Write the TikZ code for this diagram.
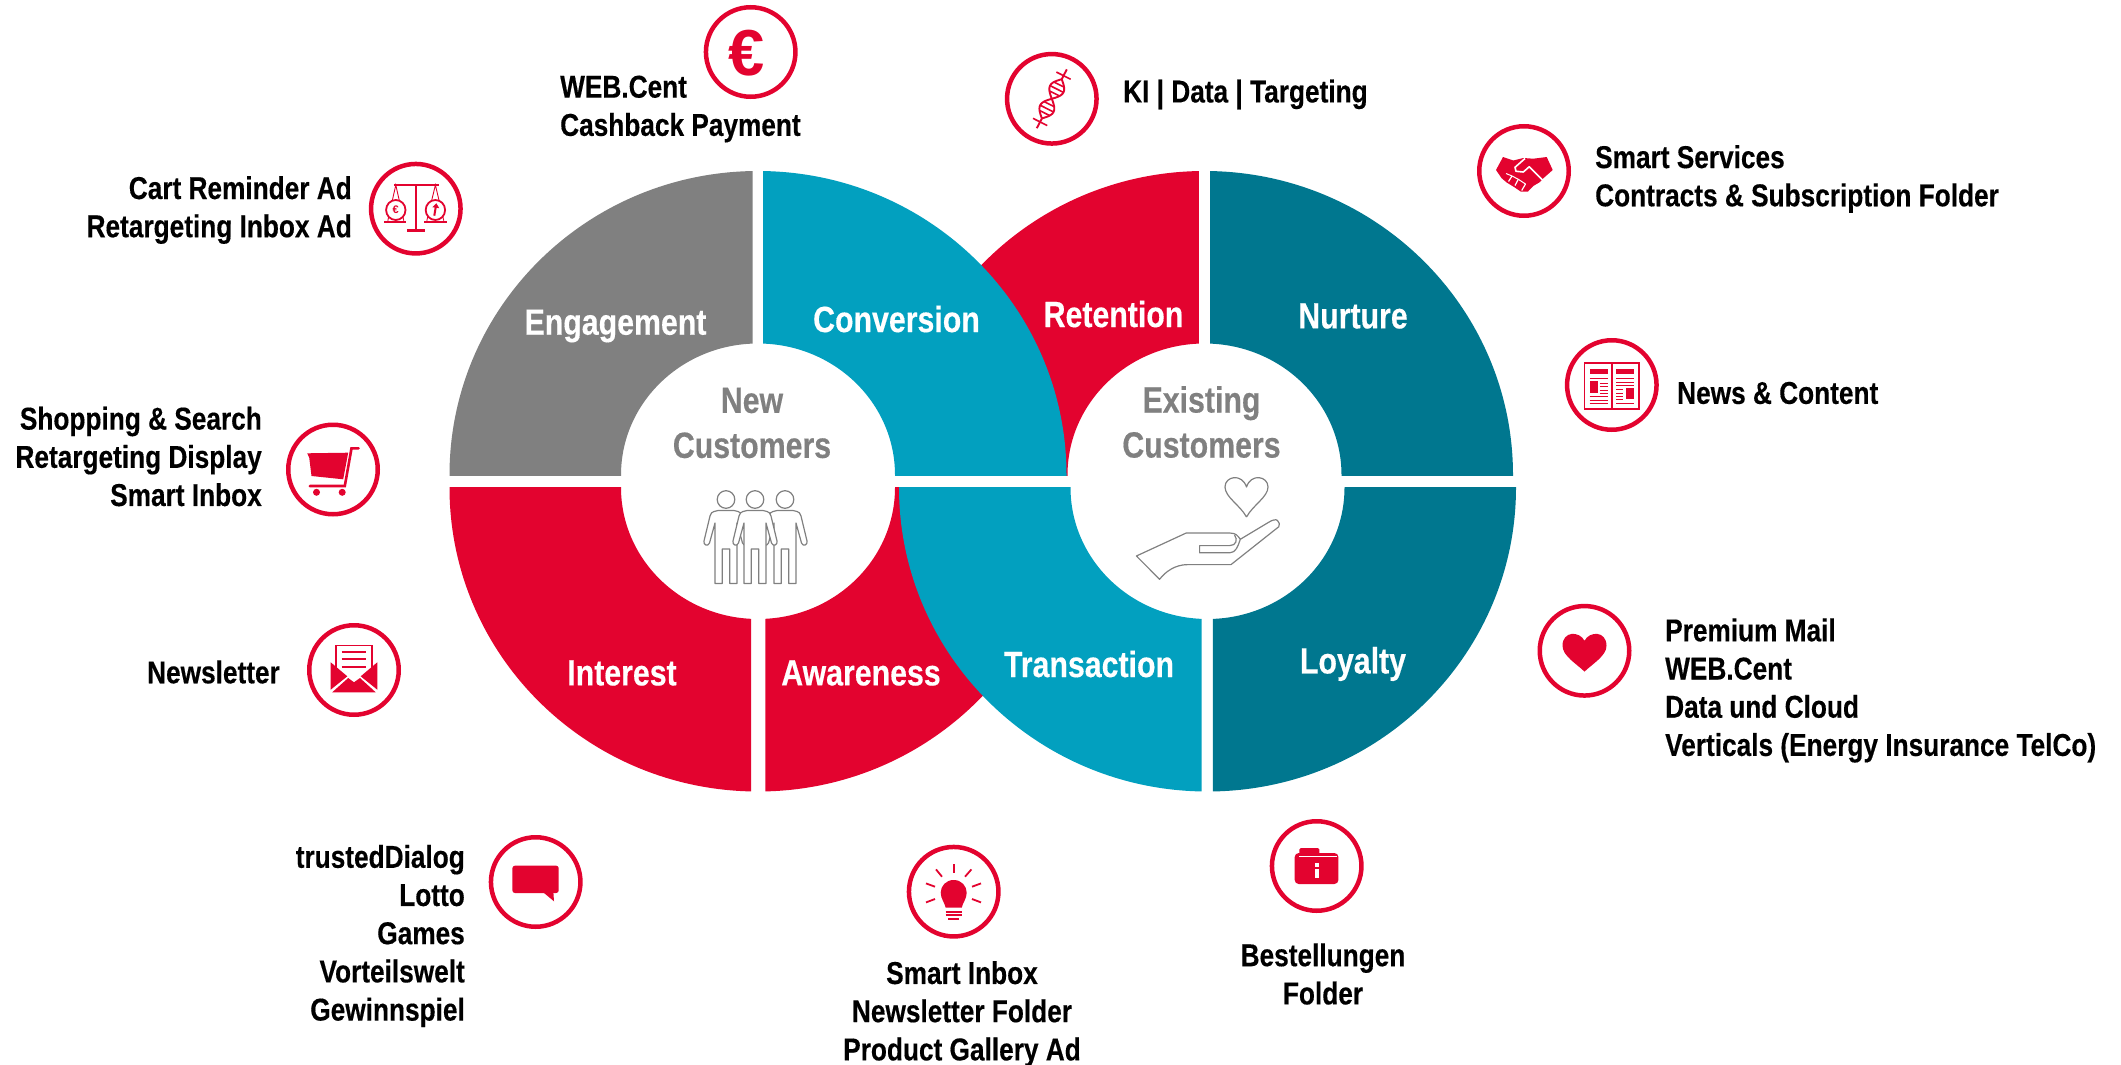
\documentclass[tikz,border=0pt]{standalone}
\usepackage{fontspec}
\setmainfont[FakeStretch=0.83,BoldFeatures={FakeBold=0.35}]{Liberation Sans}
\newfontfamily\plainfont{Liberation Sans}
\definecolor{brandred}{HTML}{E3032F}
\definecolor{brandcyan}{HTML}{02A0BF}
\definecolor{brandteal}{HTML}{00778F}
\definecolor{brandgray}{HTML}{808080}
\newcommand{\ringpart}[7]{% colour, cx, cy, x1, y1, x2, y2
  \begin{scope}
    \clip (#4,#5) rectangle (#6,#7);
    \fill[#1, even odd rule] (#2,#3) ellipse [x radius=308.5, y radius=304]
      (#2,#3) ellipse [x radius=137, y radius=131.5];
  \end{scope}}
\tikzset{
  iconring/.style={circle, draw=brandred, line width=4.5pt, minimum size=89.5pt, inner sep=0pt, fill=white},
  segtext/.style={text=white, font=\fontsize{36.5}{38}\selectfont\bfseries, inner sep=0pt},
  midtext/.style={text=brandgray, font=\fontsize{36.5}{45}\selectfont\bfseries, inner sep=0pt, align=center},
  lbl/.style={text=black, font=\fontsize{31.6}{38.2}\selectfont\bfseries, inner sep=0pt},
  redfill/.style={fill=brandred, draw=none},
  redline/.style={draw=brandred, line width=#1},
  redline/.default=2pt,
  grayline/.style={draw=brandgray, line width=1.2pt, line join=round},
  person/.style={grayline, fill=white}
}
\newcommand{\personfig}[1]{%
  \draw[person] (#1,499.5) circle [radius=8.8];
  \draw[person,shift={(#1,500)}] (-8,10.5) -- (-12,11.5) .. controls (-14,12) and (-15,13) .. (-16,16) -- (-22,41) .. controls (-23,45) and (-18,47) .. (-16.5,43) -- (-11,23) -- (-11,83.5) -- (-3.7,83.5) -- (-3.7,49) -- (3.7,49) -- (3.7,83.5) -- (11,83.5) -- (11,23) -- (16.5,43) .. controls (18,47) and (23,45) .. (22,41) -- (16,16) .. controls (15,13) and (14,12) .. (12,11.5) -- (8,10.5) -- cycle;}
\begin{document}
\begin{tikzpicture}[x=1pt,y=-1pt]
\useasboundingbox (0,0) rectangle (2121,1065);
% left ring, right ring
\ringpart{brandgray}{758}{475}{440}{160}{752.7}{475}
\ringpart{brandred}{758}{487.5}{440}{487.5}{751}{800}
\ringpart{brandred}{758}{487.5}{765.3}{487.5}{1080}{800}
\ringpart{brandred}{1204.5}{475}{880}{160}{1198.8}{475}
\ringpart{brandteal}{1204.5}{475}{1210}{160}{1520}{475}
\ringpart{brandteal}{1207.5}{487.5}{1212.9}{487.5}{1525}{800}
\ringpart{brandcyan}{758}{475}{763.2}{160}{1075}{475}
\ringpart{brandcyan}{1207.5}{487.5}{890}{487.5}{1201.7}{800}
% segment labels
\node[segtext] (engagement) at (615.5,326) {Engagement};
\node[segtext] (conversion) at (896.5,319) {Conversion};
\node[segtext] (retention) at (1113.5,314) {Retention};
\node[segtext] (nurture) at (1353,316) {Nurture};
\node[segtext] (interest) at (622,673) {Interest};
\node[segtext] (awareness) at (861,673) {Awareness};
\node[segtext] (transaction) at (1089,664) {Transaction};
\node[segtext] (loyalty) at (1353,664) {Loyalty};
\node[midtext] (newcust) at (752,423) {New\\Customers};
\node[midtext] (excust) at (1201.5,422) {Existing\\Customers};
% people
\personfig{726}\personfig{785}\personfig{755}
% giving hand
\draw[grayline] (1246.5,517) .. controls (1240,505) and (1225,497) .. (1225,487) .. controls (1225,476) and (1242,473) .. (1246.5,487) .. controls (1251,473) and (1268,476) .. (1268,487) .. controls (1268,497) and (1253,505) .. (1246.5,517);
\draw[grayline] (1136.4,556) -- (1186.2,533) -- (1229.7,533) .. controls (1236,533) and (1238,536) .. (1240.3,539.3) -- (1268.3,522.5) .. controls (1272,520) and (1276,519) .. (1277.4,520.4) .. controls (1280,522) and (1279.5,525) .. (1278.8,526.7) -- (1231,564.6) -- (1187.6,564.6) .. controls (1175,564.6) and (1165,572) .. (1159.6,579.3) -- cycle;
\draw[grayline] (1234.6,535) .. controls (1238,540) and (1236,545.6) .. (1229.7,545.6) -- (1199.6,545.6) -- (1199.6,552.8) -- (1229.7,552.8) .. controls (1236,552.8) and (1238,546) .. (1240.3,539.3);
% icon rings
\node[iconring] (iceuro) at (750.7,52) {};
\node[iconring] (icdna) at (1051.8,98.8) {};
\node[iconring] (icscale) at (415.8,208.7) {};
\node[iconring] (iccart) at (333,469.5) {};
\node[iconring] (icmail) at (354,670) {};
\node[iconring] (icchat) at (535.7,882) {};
\node[iconring] (ichands) at (1524,171) {};
\node[iconring] (icnews) at (1611.8,385) {};
\node[iconring] (icheart) at (1584.5,650.8) {};
\node[iconring] (icbulb) at (953.7,891.7) {};
\node[iconring] (icfolder) at (1316.7,866) {};
% euro
\node[text=brandred, inner sep=0pt, font=\plainfont\fontsize{65}{65}\selectfont\bfseries] (eurosign) at (747,53) {€};
% dna
\begin{scope}[shift={(1051.8,98.8)}]
  \draw[redline=1.9pt] plot[domain=-22:22,samples=36] ({0.45*\x+7.5*0.89*sin(\x*8.18)},{-0.89*\x+7.5*0.45*sin(\x*8.18)});
  \draw[redline=1.9pt] plot[domain=-22:22,samples=36] ({0.45*\x-7.5*0.89*sin(\x*8.18)},{-0.89*\x-7.5*0.45*sin(\x*8.18)});
  \draw[redline=1.9pt] (-15,29.4) -- (-9.9,19.6);
  \draw[redline=1.9pt] (15,-29.4) -- (9.9,-19.6);
  \foreach \t/\ww in {-16/6,-11/7,-6/6,6/6,11/7,16/6,-26/8,26/8}{
    \draw[redline=1.6pt] ({0.45*\t+\ww*0.89},{-0.89*\t+\ww*0.45}) -- ({0.45*\t-\ww*0.89},{-0.89*\t-\ww*0.45});
  }
\end{scope}
% scales
\begin{scope}[shift={(415.8,208.7)}]
  \draw[redline=2.2pt] (-22,-23.7) -- (22.7,-23.7);
  \draw[redline=1.6pt] (0,-23.7) -- (0,22);
  \draw[redline=3pt] (-8.4,22) -- (8.9,22);
  \draw[redline=0.9pt] (-28,12) -- (-20,-23.7) -- (-12,12);
  \draw[redline=0.9pt] (11,12) -- (19.6,-23.7) -- (28,12);
  \draw[redline=1.8pt, fill=white] (-20,1.3) circle [x radius=9.7, y radius=10];
  \draw[redline=1.8pt, fill=white] (19.6,1.3) circle [x radius=9.7, y radius=10];
  \draw[redline=2.2pt] (-31.4,13) -- (-9.4,13);
  \draw[redline=2.2pt] (8.4,13) -- (30.9,13);
  \node[text=brandred, inner sep=0pt, font=\plainfont\fontsize{11}{11}\selectfont\bfseries] (eurosmall) at (-20,1.3) {€};
  \draw[redline=2pt] (18.5,7) -- (20,-2);
  \fill[brandred] (16.5,-1.5) -- (20.5,-5.5) -- (23.5,-0.5) -- cycle;
\end{scope}
% cart
\begin{scope}[shift={(333,469.5)}]
  \fill[redfill] (-25.8,-16.2) -- (15.2,-16.8) -- (10.2,9.8) -- (-21.5,6.5) -- (-23.8,-12) -- cycle;
  \draw[redline=2.6pt, line cap=round] (25.5,-21.2) -- (18.5,-21.2) -- (11.8,16.5) -- (-23.2,16.5);
  \fill[redfill] (-16.5,22.8) circle [radius=3.5];
  \fill[redfill] (9.2,22.8) circle [radius=3.5];
\end{scope}
% mail
\begin{scope}[shift={(354,670)}]
  \draw[redline=1.6pt] (-18,2) -- (-18,-24.7) -- (18,-24.7) -- (18,2);
  \draw[redline=1.8pt] (-12.3,-18) -- (12,-18);
  \draw[redline=1.8pt] (-12.3,-11) -- (12,-11);
  \draw[redline=1.8pt] (-12.3,-2.7) -- (12,-2.7);
  \fill[redfill] (-23.3,-7.7) -- (-6.7,6.3) -- (-23.3,19.7) -- cycle;
  \fill[redfill] (23.3,-7.7) -- (6.7,6.3) -- (23.3,19.7) -- cycle;
  \fill[redfill] (-21.8,22.3) -- (-5.8,8) -- (0,12.3) -- (6,8) -- (21.7,22.3) -- cycle;
\end{scope}
% chat
\begin{scope}[shift={(535.7,882)}]
  \fill[redfill, rounded corners=2.5pt] (-23.3,-16.3) rectangle (23,11);
  \fill[redfill] (7.7,10.5) -- (18.3,19.3) -- (17.7,10.5) -- cycle;
\end{scope}
% handshake
\begin{scope}[shift={(1524,171)}]
  \fill[redfill] (-28,-1) -- (-21,-14) -- (-10.7,-10.5) -- (-0.7,-13) -- (9.3,-12.3) -- (22.7,-14) -- (28.7,-1) -- (19.3,7.3) -- (16,11) -- (9.3,15) -- (4,20.5) -- (-3.3,20.5) -- (-10,16) -- (-17.3,11.5) -- (-22.3,7.3) -- cycle;
  \draw[white, line width=1.6pt, line join=round] (1,-12.5) -- (-9,-3.7) -- (-8,0.3) -- (-0.7,1) -- (5.3,-4.3) -- (19.5,10);
  \draw[white, line width=1.2pt] (-15.5,10.5) -- (-12,5);
  \draw[white, line width=1.2pt] (-9,14.5) -- (-5.7,8.3);
  \draw[white, line width=1.2pt] (-2.3,19.5) -- (1.5,13);
  \draw[white, line width=1pt] (-18,2.5) -- (-12,5) -- (-5.7,8.3) -- (1.5,13);
\end{scope}
% news
\begin{scope}[shift={(1611.8,385)}]
  \draw[redline=1.6pt] (-27.3,-22) rectangle (27.3,24);
  \draw[redline=1.6pt] (0,-22) -- (0,24);
  \fill[redfill] (-22.3,-16) rectangle (-4,-11.3);
  \fill[redfill] (-22.3,-3.7) rectangle (-14.3,8);
  \foreach \yy in {-7,-2,1.5,5,8}{\draw[redline=0.9pt] (-12,\yy) -- (-4,\yy);}
  \foreach \yy in {-7,11.5,15,18.5}{\draw[redline=0.9pt] (-22.3,\yy) -- (-4,\yy);}
  \fill[redfill] (4.3,-16) rectangle (22.3,-11.3);
  \fill[redfill] (14,3) rectangle (22.3,14);
  \foreach \yy in {-7,-3,0}{\draw[redline=0.9pt] (4.3,\yy) -- (22.3,\yy);}
  \foreach \yy in {4,8,11,14}{\draw[redline=0.9pt] (4.3,\yy) -- (11.5,\yy);}
  \foreach \yy in {18}{\draw[redline=0.9pt] (4.3,\yy) -- (22.3,\yy);}
\end{scope}
% heart
\begin{scope}[shift={(1584.5,650.8)}]
  \fill[redfill] (0,-10) .. controls (-5,-20) and (-22,-20) .. (-22,-5) .. controls (-22,5) and (-8,13) .. (0,20.8) .. controls (8,13) and (22,5) .. (22,-5) .. controls (22,-20) and (5,-20) .. (0,-10) -- cycle;
\end{scope}
% bulb
\begin{scope}[shift={(953.7,891.7)}]
  \fill[redfill] (0,-11.7) .. controls (-8,-11.7) and (-13,-5.5) .. (-13,1) .. controls (-13,7) and (-9,11) .. (-8,16) -- (8,16) .. controls (9,11) and (13,7) .. (13,1) .. controls (13,-5.5) and (8,-11.7) .. (0,-11.7) -- cycle;
  \draw[redline=1.6pt] (-8,20) -- (8,20);
  \draw[redline=1.6pt] (-8,23.3) -- (8,23.3);
  \draw[redline=1.6pt] (-5.5,27) -- (5.5,27);
  \draw[redline=1.8pt] (0,-27.7) -- (0,-19);
  \draw[redline=1.8pt] (-17.7,-22.3) -- (-11.7,-15);
  \draw[redline=1.8pt] (17.7,-22.3) -- (11.3,-15);
  \draw[redline=1.8pt] (-27.7,-8.3) -- (-18.7,-5);
  \draw[redline=1.8pt] (27.3,-8.3) -- (18.3,-5);
  \draw[redline=1.8pt] (-27.7,10.7) -- (-18.7,7.3);
  \draw[redline=1.8pt] (27.3,10.7) -- (18.3,7.3);
\end{scope}
% folder
\begin{scope}[shift={(1316.7,866)}]
  \fill[redfill, rounded corners=1.5pt] (-17.3,-18) rectangle (2.7,-9);
  \fill[redfill, rounded corners=4pt] (-22,-13) rectangle (21.7,18);
  \draw[white, line width=1.2pt] (-17.3,-9.7) -- (20.7,-9.7);
  \fill[white] (-1.5,-3) rectangle (1.8,0.5);
  \fill[white] (-1.5,3) rectangle (1.8,12);
\end{scope}
% labels
\node[lbl, anchor=west, align=left] (lweb) at (560,109) {WEB.Cent\\Cashback Payment};
\node[lbl, anchor=west] (lki) at (1123,94.5) {KI | Data | Targeting};
\node[lbl, anchor=west, align=left] (lsmart) at (1595,179) {Smart Services\\Contracts \& Subscription Folder};
\node[lbl, anchor=west] (lnews) at (1677,393) {News \& Content};
\node[lbl, anchor=west, align=left] (lprem) at (1665,690.5) {Premium Mail\\WEB.Cent\\Data und Cloud\\Verticals (Energy Insurance TelCo)};
\node[lbl, align=center] (lbest) at (1323,974) {Bestellungen\\Folder};
\node[lbl, align=center] (lgal) at (962,1014) {Smart Inbox\\Newsletter Folder\\Product Gallery Ad};
\node[lbl, anchor=east, align=right] (ltrust) at (465,936) {trustedDialog\\Lotto\\Games\\Vorteilswelt\\Gewinnspiel};
\node[lbl, anchor=east] (lnl) at (280,672) {Newsletter};
\node[lbl, anchor=east, align=right] (lshop) at (262,456.5) {Shopping \& Search\\Retargeting Display\\Smart Inbox};
\node[lbl, anchor=east, align=right] (lcart) at (352,210) {Cart Reminder Ad\\Retargeting Inbox Ad};
\end{tikzpicture}
\end{document}
